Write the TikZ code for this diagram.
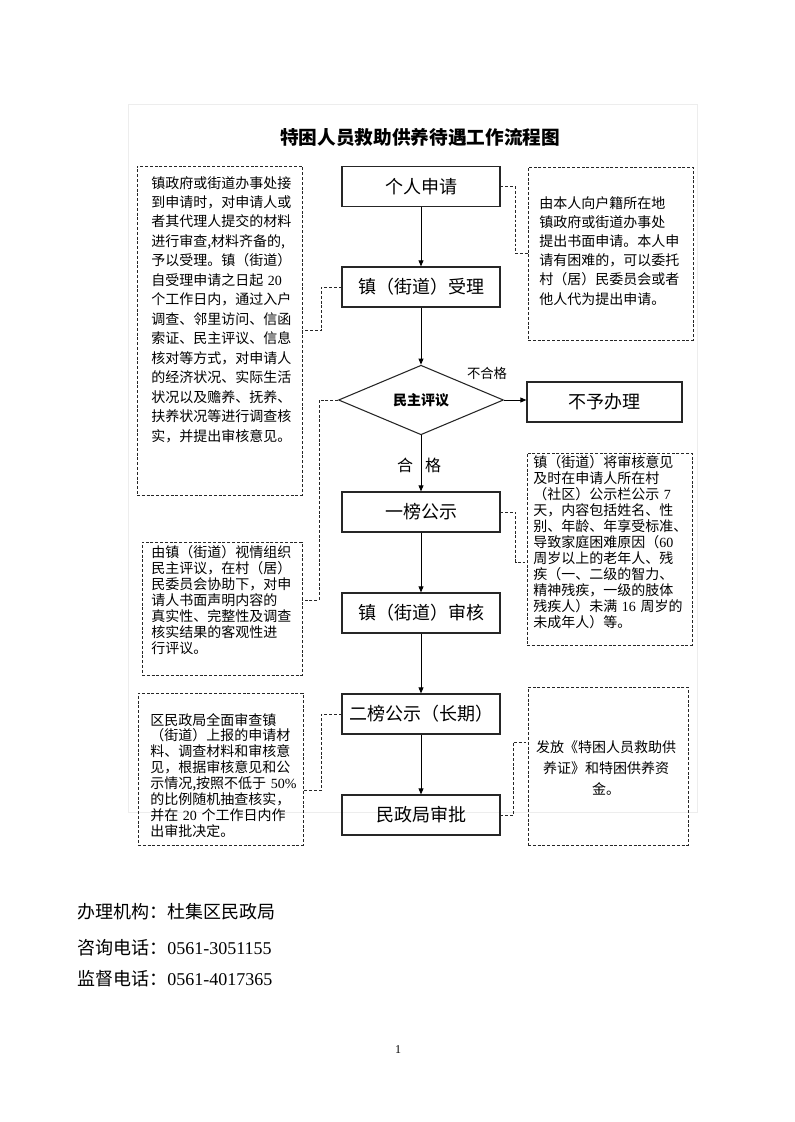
\documentclass[tikz,border=0pt]{standalone}
\usepackage{fontspec}
\setmainfont{Noto Sans CJK SC}
\newfontfamily\numfont{Liberation Serif}
\usetikzlibrary{arrows.meta,calc,shapes.geometric}
\newcommand{\LatinNum}[1]{{\numfont #1}}
\tikzset{
  flow box/.style={draw=black!85,line width=.8pt,minimum width=118.5pt,minimum height=30pt,inner sep=0pt,font=\fontsize{13.5}{16}\selectfont},
  check box/.style={diamond,draw=black!85,line width=.8pt,minimum width=123.75pt,minimum height=45.75pt,inner sep=0pt,font=\fontsize{10.5}{12}\selectfont\bfseries},
  note frame/.style={draw=black!85,line width=.6pt,dash pattern=on 2.2pt off 1.4pt,inner sep=0pt},
  note link/.style={draw=black!85,line width=.6pt,dash pattern=on 2.2pt off 1.4pt},
  note text/.style={inner sep=0pt,anchor=base west,align=left,text width=130pt},
  flow arrow/.style={line width=.75pt,-{Triangle[length=4.5pt,width=3.6pt]}}
}

\begin{document}
\begin{tikzpicture}[x=0.75pt,y=-0.75pt]
  \useasboundingbox[fill=white] (0,0) rectangle (794,1122);
  \draw[black!7] (128,104) rectangle (697,812);

  \node[font=\fontsize{14}{16}\selectfont\bfseries] (title) at (420,137) {特困人员救助供养待遇工作流程图};

  \node[flow box] (apply)   at (421,186.5) {个人申请};
  \node[flow box] (accept)  at (421,287)   {镇（街道）受理};
  \node[check box] (review) at (421,400)   {民主评议};
  \node[flow box,minimum width=116.25pt] (reject) at (604.5,402) {不予办理};
  \node[flow box] (notice1) at (421,512)   {一榜公示};
  \node[flow box] (audit)   at (421,613)   {镇（街道）审核};
  \node[flow box] (notice2) at (421,714)   {二榜公示（长期）};
  \node[flow box] (approve) at (421,815)   {民政局审批};

  \draw[flow arrow] (apply.south) -- (accept.north);
  \draw[flow arrow] (accept.south) -- (review.north);
  \draw[flow arrow] (review.south) -- (notice1.north);
  \draw[flow arrow] (notice1.south) -- (audit.north);
  \draw[flow arrow] (audit.south) -- (notice2.north);
  \draw[flow arrow] (notice2.south) -- (approve.north);
  \draw[flow arrow] (review.east) -- (review.east -| reject.west);

  \node[font=\fontsize{10}{12}\selectfont] (fail) at (487,373) {不合格};
  \node[font=\fontsize{12}{14}\selectfont] (pass) at (419,465) {合\hspace{9pt}格};

  \node[note frame,minimum width=123.75pt,minimum height=246.75pt] (nl1) at (219.5,330.5) {};
  \node[note frame,minimum width=123.75pt,minimum height=129.75pt] (nr1) at (610.5,253.5) {};
  \node[note frame,minimum width=120pt,minimum height=99.75pt]     (nl2) at (222,608.5) {};
  \node[note frame,minimum width=123.75pt,minimum height=144pt]    (nr2) at (609.5,549) {};
  \node[note frame,minimum width=123.75pt,minimum height=114pt]    (nl3) at (220.5,769) {};
  \node[note frame,minimum width=120pt,minimum height=118.5pt]     (nr3) at (608,766) {};

  \node[note text,font=\fontsize{10.5}{14.6}\selectfont] (tl1) at (151,188) {镇政府或街道办事处接\\
    到申请时，对申请人或\\ 者其代理人提交的材料\\ 进行审查,材料齐备的,\\
    予以受理。镇（街道）\\ 自受理申请之日起 \LatinNum{20}\\ 个工作日内，通过入户\\
    调查、邻里访问、信函\\ 索证、民主评议、信息\\ 核对等方式，对申请人\\
    的经济状况、实际生活\\ 状况以及赡养、抚养、\\ 扶养状况等进行调查核\\
    实，并提出审核意见。};
  \node[note text,font=\fontsize{10.5}{14.4}\selectfont] (tr1) at (539,208) {由本人向户籍所在地\\
    镇政府或街道办事处\\ 提出书面申请。本人申\\ 请有困难的，可以委托\\
    村（居）民委员会或者\\ 他人代为提出申请。};
  \node[note text,font=\fontsize{10.5}{12}\selectfont] (tl2) at (151,557) {由镇（街道）视情组织\\
    民主评议，在村（居）\\ 民委员会协助下，对申\\ 请人书面声明内容的\\
    真实性、完整性及调查\\ 核实结果的客观性进\\ 行评议。};
  \node[note text,font=\fontsize{10.5}{12}\selectfont] (tr2) at (533,467) {镇（街道）将审核意见\\
    及时在申请人所在村\\ （社区）公示栏公示 \LatinNum{7}\\ 天，内容包括姓名、性\\
    别、年龄、年享受标准、\\ 导致家庭困难原因（\LatinNum{60}\\ 周岁以上的老年人、残\\
    疾（一、二级的智力、\\ 精神残疾，一级的肢体\\ 残疾人）未满 \LatinNum{16} 周岁的\\
    未成年人）等。};
  \node[note text,font=\fontsize{10.5}{11.9}\selectfont] (tl3) at (150,725) {区民政局全面审查镇\\
    （街道）上报的申请材\\ 料、调查材料和审核意\\ 见，根据审核意见和公\\
    示情况,按照不低于 \LatinNum{50\%}\\ 的比例随机抽查核实，\\ 并在 \LatinNum{20} 个工作日内作\\
    出审批决定。};
  \node[note text,anchor=base,align=center,text width=108pt,font=\fontsize{10.5}{15.75}\selectfont] (tr3) at (606,752) {发放《特困人员救助供\\
    养证》和特困供养资\\ 金。};

  \draw[note link] (accept.west) -- ++(-20,0) |- (nl1.east);
  \draw[note link] (apply.east) -- ++(15,0) |- (nr1.west);
  \draw[note link] (review.west) -- ++(-19,0) |- ([yshift=6.4pt]nl2.east);
  \draw[note link] (notice1.east) -- ++(15,0) |- ([yshift=-9.75pt]nr2.west);
  \draw[note link] (notice2.west) -- ++(-20,0) |- ([yshift=-15.75pt]nl3.east);
  \draw[note link] (approve.east) -- ++(13,0) |- ([yshift=18pt]nr3.west);

  \node[anchor=base west,inner sep=0pt,font=\fontsize{13.5}{16}\selectfont] (office) at (77,918) {办理机构：杜集区民政局};
  \node[anchor=base west,inner sep=0pt,font=\fontsize{13.5}{16}\selectfont] (phone) at (77,954) {咨询电话：\LatinNum{0561-3051155}};
  \node[anchor=base west,inner sep=0pt,font=\fontsize{13.5}{16}\selectfont] (watch) at (77,985) {监督电话：\LatinNum{0561-4017365}};
  \node[font=\fontsize{9}{10}\selectfont] (page) at (398,1050) {\LatinNum{1}};
\end{tikzpicture}
\end{document}
